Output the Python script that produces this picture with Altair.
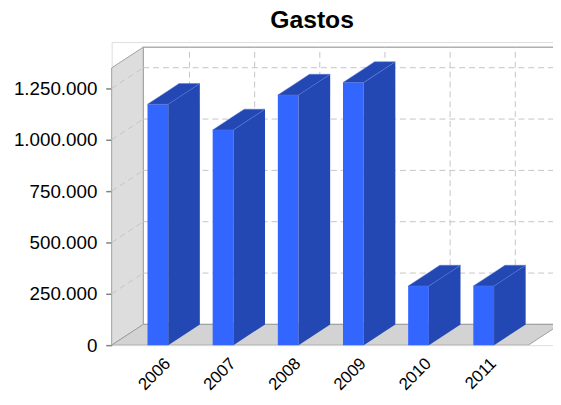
import altair as alt
import pandas as pd

# ---- data ----
years = ["2006", "2007", "2008", "2009", "2010", "2011"]
gastos = [1173000, 1048000, 1218000, 1279000, 288000, 288000]
y_ticks = [0, 250000, 500000, 750000, 1000000, 1250000]
chart_title = "Gastos"

# ---- 3D geometry (in scale units) ----
PXX = 66.0            # px per category
PXY = 208e-6          # px per unit value
XL = -46.8 / PXX      # front-left edge of plot
XR = XL + 422 / PXX   # front-right edge of plot
X_END = XL + 447 / PXX
Y_TOP = 307 / PXY
YMAX = 1350000        # top of walls (front plane)
DX = 32 / PXX         # depth offset x
DY = 21 / PXY         # depth offset y
BW = 21 / PXX         # bar width

FRONT = "#3366ff"
DARK = "#2348b3"
GRID = "#c4c4c4"
EDGE = "#a0a0a0"

xs = alt.Scale(domain=[XL, X_END], nice=False, zero=False)
ys = alt.Scale(domain=[0, Y_TOP], nice=False, zero=False)

label_expr_x = "[" + ",".join("'%s'" % y for y in years) + "][datum.value]"
X = alt.X("x:Q", scale=xs, axis=alt.Axis(
    values=list(range(len(years))), labelExpr=label_expr_x, title=None,
    domain=False, ticks=False, grid=False, labelAngle=-45, labelAlign="right",
    labelBaseline="top", labelFontSize=17, labelFont="Liberation Sans",
    labelColor="#000000", labelPadding=10, labelOffset=4, labelFlush=False,
    labelOverlap=False))
Y = alt.Y("y:Q", scale=ys, stack=None, axis=alt.Axis(
    values=y_ticks, title=None, domain=False, grid=False, ticks=True,
    tickColor="#808080", tickSize=6, tickWidth=1.5,
    labelExpr="replace(replace(format(datum.value, ','), ',', '.'), ',', '.')",
    labelFontSize=19, labelFont="Liberation Sans", labelColor="#000000",
    labelPadding=9, labelFlush=False, labelOverlap=False))

# ---- tables ----
back = pd.DataFrame({"x": [XL + DX], "x2": [XR + DX], "y": [DY], "y2": [YMAX + DY]})
left = pd.DataFrame({"x": [XL, XL + DX], "y": [0, DY], "y2": [YMAX, YMAX + DY]})
floor = pd.DataFrame({"x": [XL, XL + DX, XR, XR + DX], "y": [0, 0, 0, DY],
                      "y2": [0, DY, DY, DY]})
grid_back_h = pd.DataFrame({"x": [XL + DX] * (len(y_ticks) - 1),
                            "x2": [XR + DX] * (len(y_ticks) - 1),
                            "y": [t + DY for t in y_ticks[1:]]})
grid_back_v = pd.DataFrame({"x": [i + DX for i in range(len(years))],
                            "y": [DY] * len(years), "y2": [YMAX + DY] * len(years)})
grid_left = pd.DataFrame({"x": [XL] * (len(y_ticks) - 1), "x2": [XL + DX] * (len(y_ticks) - 1),
                          "y": y_ticks[1:], "y2": [t + DY for t in y_ticks[1:]]})

front_rows, side_rows, top_rows = [], [], []
for i, (yr, v) in enumerate(zip(years, gastos)):
    x0, x1 = i - BW / 2, i + BW / 2
    front_rows.append({"x": x0, "x2": x1, "y": 0, "y2": v, "year": yr})
    side_rows += [{"x": x1, "y": 0, "y2": v, "id": yr},
                  {"x": x1 + DX, "y": DY, "y2": v + DY, "id": yr}]
    top_rows += [{"x": x0, "y": v, "y2": v, "id": yr},
                 {"x": x1, "y": v, "y2": v + DY * BW / DX, "id": yr},
                 {"x": x0 + DX, "y": v + DY * (DX - BW) / DX, "y2": v + DY, "id": yr},
                 {"x": x1 + DX, "y": v + DY, "y2": v + DY, "id": yr}]
front = pd.DataFrame(front_rows)
side = pd.DataFrame(side_rows)
top = pd.DataFrame(top_rows)
title_df = pd.DataFrame({"t": [chart_title]})

# ---- layers ----
l_back = alt.Chart(back).mark_rect(fill="white", stroke="#b0b0b0", strokeWidth=1.5, clip=True).encode(
    x=X, x2="x2:Q", y=Y, y2="y2:Q")
l_left = alt.Chart(left).mark_area(orient="vertical", fill="#dddddd", stroke=EDGE, strokeWidth=1).encode(
    x=X, y=Y, y2="y2:Q")
l_floor = alt.Chart(floor).mark_area(orient="vertical", fill="#d3d3d3", stroke=EDGE, strokeWidth=1, clip=True).encode(
    x=X, y=Y, y2="y2:Q")
l_gh = alt.Chart(grid_back_h).mark_rule(color=GRID, strokeDash=[6, 4], strokeWidth=1, clip=True).encode(
    x=X, x2="x2:Q", y=Y)
l_gv = alt.Chart(grid_back_v).mark_rule(color=GRID, strokeDash=[6, 4], strokeWidth=1).encode(
    x=X, y=Y, y2="y2:Q")
l_gl = alt.Chart(grid_left).mark_rule(color=GRID, strokeDash=[6, 4], strokeWidth=1).encode(
    x=X, x2="x2:Q", y=Y, y2="y2:Q")
l_front = alt.Chart(front).mark_rect(fill=FRONT).encode(x=X, x2="x2:Q", y=Y, y2="y2:Q")
l_side = alt.Chart(side).mark_area(orient="vertical", fill=DARK).encode(
    x=X, y=Y, y2="y2:Q", detail="id:N")
l_top = alt.Chart(top).mark_area(orient="vertical", fill=DARK, stroke="#5577dd", strokeWidth=0.5).encode(
    x=X, y=Y, y2="y2:Q", detail="id:N")
l_title = alt.Chart(title_df).mark_text(
    fontSize=25, font="Liberation Sans", fontWeight="bold", color="#000000",
    align="center", baseline="alphabetic").encode(
    text="t:N", x=alt.value(203), y=alt.value(-14))

chart = alt.layer(l_back, l_left, l_floor, l_gh, l_gv, l_gl, l_front, l_side, l_top, l_title).properties(
    width=447, height=307,
    autosize=alt.AutoSizeParams(type="none"),
    padding={"left": 105, "top": 32, "right": 0, "bottom": 47},
).configure_view(stroke="transparent", strokeWidth=0).configure(background="white")

chart.save("out.html", embed_options={"renderer": "svg", "actions": False})
